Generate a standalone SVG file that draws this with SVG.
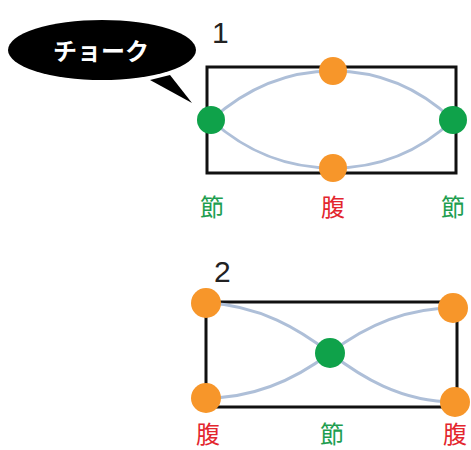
<svg xmlns="http://www.w3.org/2000/svg" width="471" height="450" viewBox="0 0 471 450">
<style>
.frame{fill:none;stroke:#111;stroke-width:3}
.wave{fill:none;stroke:#aebfd8;stroke-width:3}
.anti{fill:#f7962a}
.node{fill:#0fa24a}
.lbl{font-family:"Noto Sans CJK JP",sans-serif;font-size:24px;text-anchor:middle}
.g{fill:#1e9e50}
.r{fill:#e3262e}
.num{font-family:"Liberation Sans","Noto Sans",sans-serif;font-size:30px;fill:#222}
</style>
<rect width="471" height="450" fill="#fff"/>
<g id="bubble">
<path d="M170,75 L192,103 L150,80 Z" fill="#000"/>
<ellipse cx="102" cy="50" rx="94" ry="30" fill="#000"/>
<text x="101" y="60" font-family="Noto Sans CJK JP,sans-serif" font-size="24" font-weight="bold" fill="#fff" text-anchor="middle">チョーク</text>
</g>
<g id="mode1">
<text class="num" x="212" y="43">1</text>
<rect class="frame" x="207" y="67" width="249" height="106"/>
</g>
<g id="mode2">
<text class="num" x="214" y="282">2</text>
<rect class="frame" x="206" y="302" width="251" height="105"/>
</g>
<g id="connectors">
<path class="wave" d="M211,120 C250,85 290,71 333,71 C376,71 416,85 453,120"/>
<path class="wave" d="M211,120 C250,155 290,168 333,168 C376,168 416,155 453,120"/>
<path class="wave" d="M206,303 C260,305 300,330 330,353 C360,376 400,402 455,402"/>
<path class="wave" d="M206,398 C260,398 300,376 330,353 C360,330 400,308 453,308"/>
</g>
<g id="n1-left"><circle class="node" cx="211" cy="120" r="14"/><text class="lbl g" x="212" y="216">節</text></g>
<g id="n1-top"><circle class="anti" cx="333" cy="71" r="14"/></g>
<g id="n1-bottom"><circle class="anti" cx="333" cy="168" r="14"/><text class="lbl r" x="333" y="216">腹</text></g>
<g id="n1-right"><circle class="node" cx="453" cy="120" r="14"/><text class="lbl g" x="453" y="216">節</text></g>
<g id="n2-tl"><circle class="anti" cx="206" cy="303" r="15"/></g>
<g id="n2-tr"><circle class="anti" cx="453" cy="308" r="15"/></g>
<g id="n2-bl"><circle class="anti" cx="206" cy="398" r="15"/><text class="lbl r" x="208" y="443">腹</text></g>
<g id="n2-br"><circle class="anti" cx="455" cy="402" r="15"/><text class="lbl r" x="455" y="443">腹</text></g>
<g id="n2-center"><circle class="node" cx="330" cy="353" r="15"/><text class="lbl g" x="332" y="443">節</text></g>
</svg>
